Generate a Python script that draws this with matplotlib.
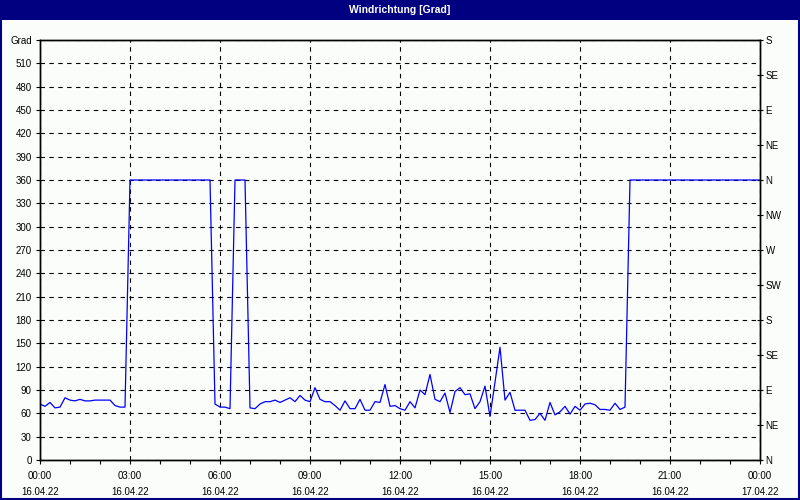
import numpy as np
import pandas as pd
import matplotlib
matplotlib.use("Agg")
import matplotlib.pyplot as plt
import matplotlib.dates as mdates
from matplotlib.patches import Rectangle

# wind direction in degrees, 10 minute values, 16.04.22 00:00 .. 17.04.22 00:00
part1 = [72, 69, 74, 67, 68, 80, 77, 76, 78, 76, 76, 77, 77, 77, 77, 70, 68, 68]
part2 = [360] * 17
part3 = [72, 68, 68, 66]
part4 = [360, 360, 360]
part5 = [67, 66, 72, 75, 75, 77, 74, 77, 80, 75, 83, 77, 75, 93, 78, 75, 75, 70,
         64, 76, 66, 66, 78, 64, 64, 75, 74, 97, 69, 70, 66, 64, 75, 67, 90, 84,
         110, 78, 75, 86, 61, 88, 93, 84, 85, 66, 75, 95, 56, 100, 145, 77, 87,
         64, 64, 64, 51, 52, 60, 51, 74, 58, 62, 69, 59, 69, 64, 72, 73, 71, 65,
         65, 64, 73, 65, 68]
part6 = [360] * 27
direction = part1 + part2 + part3 + part4 + part5 + part6
times = pd.date_range("2022-04-16 00:00", periods=len(direction), freq="10min")

left_ticks = list(range(0, 541, 30))
left_labels = [str(v) for v in left_ticks[:-1]] + ["Grad"]
compass_ticks = list(range(0, 541, 45))
compass_labels = ["N", "NE", "E", "SE", "S", "SW", "W", "NW", "N", "NE", "E", "SE", "S"]

bg = "#fbfdfb"
navy = "#000080"
plt.rcParams["font.family"] = ["Liberation Sans", "DejaVu Sans"]
plt.rcParams["font.size"] = 7

fig = plt.figure(figsize=(8, 5), dpi=100, facecolor=bg)
ax = fig.add_axes([0.05, 0.08, 0.90, 0.84], facecolor=bg)

ax.plot(times, direction, color="#0000ff", lw=0.9, zorder=3)

t0 = pd.Timestamp("2022-04-16 00:00")
t1 = pd.Timestamp("2022-04-17 00:00")
ax.set_xlim(t0, t1)
ax.set_ylim(0, 540)
ax.xaxis.set_major_locator(mdates.HourLocator(byhour=range(0, 24, 3)))
ax.xaxis.set_minor_locator(mdates.HourLocator())
ax.xaxis.set_major_formatter(mdates.DateFormatter("%H:%M\n%d.%m.%y"))
ax.set_yticks(left_ticks)
ax.set_yticklabels(left_labels)
for lab in ax.get_xticklabels():
    lab.set_linespacing(1.75)

ax.grid(True, which="major", color="black", linestyle=(0, (4, 4)), lw=0.8)
ax.tick_params(axis="x", which="both", direction="out", length=3, width=0.8, pad=5)
ax.tick_params(axis="y", direction="out", length=3, width=0.8, pad=3)
for s in ax.spines.values():
    s.set_linewidth(1.0)

ax2 = ax.twinx()
ax2.set_ylim(0, 540)
ax2.set_yticks(compass_ticks)
ax2.set_yticklabels(compass_labels)
ax2.tick_params(axis="y", direction="inout", length=4, width=0.8, pad=2)
for s in ax2.spines.values():
    s.set_linewidth(1.0)

# title bar and window frame
fig.patches.append(Rectangle((0, 0.96), 1, 0.04, transform=fig.transFigure,
                             facecolor=navy, edgecolor="none", zorder=0))
fig.patches.append(Rectangle((0.001, 0.002), 0.998, 0.996, transform=fig.transFigure,
                             facecolor="none", edgecolor=navy, lw=1.5, zorder=5))
fig.text(0.5, 0.98, "Windrichtung [Grad]", color="white", fontsize=7.5,
         fontweight="bold", ha="center", va="center")

fig.savefig("out.png", dpi=100, facecolor=bg)
